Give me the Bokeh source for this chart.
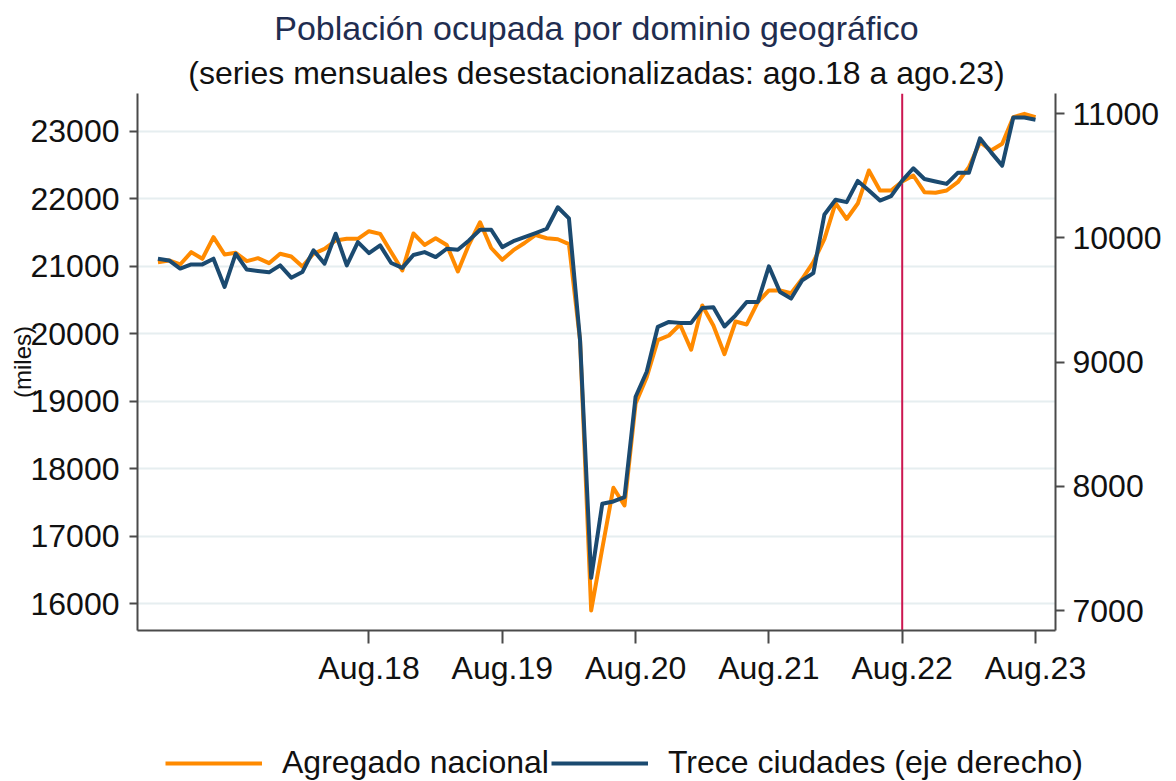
import math
from bokeh.plotting import figure
from bokeh.layouts import column, row
from bokeh.models import (Range1d, LinearAxis, FixedTicker, Span, Title,
                          Legend, LegendItem)
from bokeh.embed import file_html
from bokeh.resources import INLINE

# ---------------- data ----------------
months = [f"{y}-{m:02d}" for y in range(2017, 2024) for m in range(1, 13)][:80]

nacional = [21061, 21086, 21027, 21209, 21111, 21431, 21175, 21200, 21076, 21120,
            21046, 21185, 21145, 20997, 21185, 21259, 21382, 21407, 21407, 21520,
            21481, 21209, 20938, 21486, 21316, 21415, 21316, 20923, 21323, 21653,
            21271, 21096, 21239, 21345, 21464, 21415, 21400, 21328, 19901, 15901,
            16819, 17719, 17456, 18967, 19357, 19905, 19975, 20138, 19763, 20419,
            20123, 19698, 20182, 20138, 20468, 20642, 20642, 20601, 20815, 21061,
            21407, 21935, 21701, 21930, 22419, 22123, 22123, 22256, 22345, 22098,
            22089, 22123, 22246, 22468, 22839, 22716, 22815, 23209, 23259, 23209]

trece = [9833, 9819, 9753, 9787, 9787, 9833, 9605, 9873, 9745, 9733,
         9723, 9779, 9680, 9725, 9900, 9793, 10034, 9779, 9966, 9878,
         9940, 9798, 9759, 9863, 9886, 9846, 9913, 9905, 9980, 10066,
         10066, 9926, 9974, 10006, 10039, 10074, 10247, 10158, 9177, 7263,
         7859, 7878, 7913, 8721, 8922, 9284, 9324, 9316, 9316, 9435,
         9442, 9287, 9377, 9484, 9484, 9771, 9565, 9512, 9659, 9717,
         10189, 10307, 10288, 10459, 10382, 10301, 10336, 10462, 10561, 10475,
         10454, 10435, 10524, 10524, 10802, 10689, 10582, 10970, 10970, 10952]

tick_months = ["2018-08", "2019-08", "2020-08", "2021-08", "2022-08", "2023-08"]
tick_labels = ["Aug.18", "Aug.19", "Aug.20", "Aug.21", "Aug.22", "Aug.23"]
left_ticks = [16000, 17000, 18000, 19000, 20000, 21000, 22000, 23000]
right_ticks = [7000, 8000, 9000, 10000, 11000]
marker_month = "2022-08"

title_text = "Población ocupada por dominio geográfico"
subtitle_text = "(series mensuales desestacionalizadas: ago.18 a ago.23)"
unit_text = "(miles)"
legend_labels = ["Agregado nacional", "Trece ciudades (eje derecho)"]

# ---------------- styling ----------------
ORANGE = "#ff8a00"
NAVY = "#1b4a70"
RED = "#cc1650"
AXIS = "#4a4a4a"
FONT = "Liberation Sans"

x = list(range(len(months)))
tick_idx = [months.index(m) for m in tick_months]

p = figure(width=1176, height=700, output_backend="svg", toolbar_location=None,
           x_range=Range1d(-1.84, 80.8), y_range=Range1d(15604, 23560),
           min_border_left=137, min_border_right=121,
           min_border_top=93, min_border_bottom=70, title=None)
p.outline_line_color = None
p.background_fill_color = "white"
p.border_fill_color = "white"

p.extra_y_ranges = {"right": Range1d(6839, 11163)}
raxis = LinearAxis(y_range_name="right")
p.add_layout(raxis, "right")

for ax in [p.xaxis[0], p.yaxis[0], raxis]:
    ax.axis_line_width = 2
    ax.axis_line_color = AXIS
    ax.major_tick_line_width = 2
    ax.major_tick_line_color = AXIS
    ax.major_tick_in = 0
    ax.minor_tick_in = 0
    ax.minor_tick_out = 0
    ax.major_label_text_font = FONT
    ax.major_label_text_font_size = "32px"
    ax.major_label_text_color = "#111111"

p.yaxis[0].ticker = FixedTicker(ticks=left_ticks)
p.yaxis[0].major_tick_out = 8
p.yaxis[0].major_label_standoff = 10
p.yaxis[0].axis_label = unit_text
p.yaxis[0].axis_label_text_font = FONT
p.yaxis[0].axis_label_text_font_size = "24px"
p.yaxis[0].axis_label_text_font_style = "normal"
p.yaxis[0].axis_label_text_color = "#111111"
p.yaxis[0].axis_label_standoff = -8

raxis.ticker = FixedTicker(ticks=right_ticks)
raxis.major_tick_out = 9
raxis.major_label_standoff = 8

p.xaxis[0].ticker = FixedTicker(ticks=tick_idx)
p.xaxis[0].major_label_overrides = {i: l for i, l in zip(tick_idx, tick_labels)}
p.xaxis[0].major_tick_out = 13
p.xaxis[0].major_label_standoff = 6

p.xgrid.visible = False
p.ygrid.grid_line_color = "#e6eef0"
p.ygrid.grid_line_width = 2

span = Span(location=months.index(marker_month), dimension="height",
            line_color=RED, line_width=2, level="underlay")
p.add_layout(span)

r1 = p.line(x, nacional, line_color=ORANGE, line_width=4, line_join="round")
r2 = p.line(x, trece, line_color=NAVY, line_width=4, line_join="round",
            y_range_name="right")

sub = Title(text=subtitle_text, align="center", text_font=FONT,
            text_font_size="32px", text_font_style="normal",
            text_color="#111111", standoff=5)
p.add_layout(sub, "above")
main = Title(text=title_text, align="center", text_font=FONT,
             text_font_size="34px", text_font_style="normal",
             text_color="#1f2d50", standoff=8)
p.add_layout(main, "above")

# ---------------- legend strip ----------------
lg = figure(width=1176, height=81, output_backend="svg", toolbar_location=None,
            x_range=Range1d(0, 1), y_range=Range1d(0, 1),
            x_axis_location=None, y_axis_location=None,
            min_border=0, min_border_left=0, min_border_right=0,
            min_border_top=0, min_border_bottom=0, title=None)
lg.outline_line_color = None
lg.xgrid.visible = False
lg.ygrid.visible = False
# off-range dummy renderers that only carry the legend styling
l1 = lg.line([5, 6], [5, 5], line_color=ORANGE, line_width=4)
l2 = lg.line([5, 6], [5, 5], line_color=NAVY, line_width=4)

legend = Legend(items=[LegendItem(label=legend_labels[0], renderers=[l1]),
                       LegendItem(label=legend_labels[1], renderers=[l2])],
                orientation="horizontal", location=(165, 0),
                glyph_width=97, glyph_height=30, label_standoff=20, spacing=2,
                padding=0, margin=0, border_line_alpha=0, background_fill_alpha=0,
                label_text_font=FONT, label_text_font_size="32px",
                label_text_color="#111111")
lg.add_layout(legend)

open("out.html", "w").write(file_html(column(p, row(lg), spacing=0), INLINE))
